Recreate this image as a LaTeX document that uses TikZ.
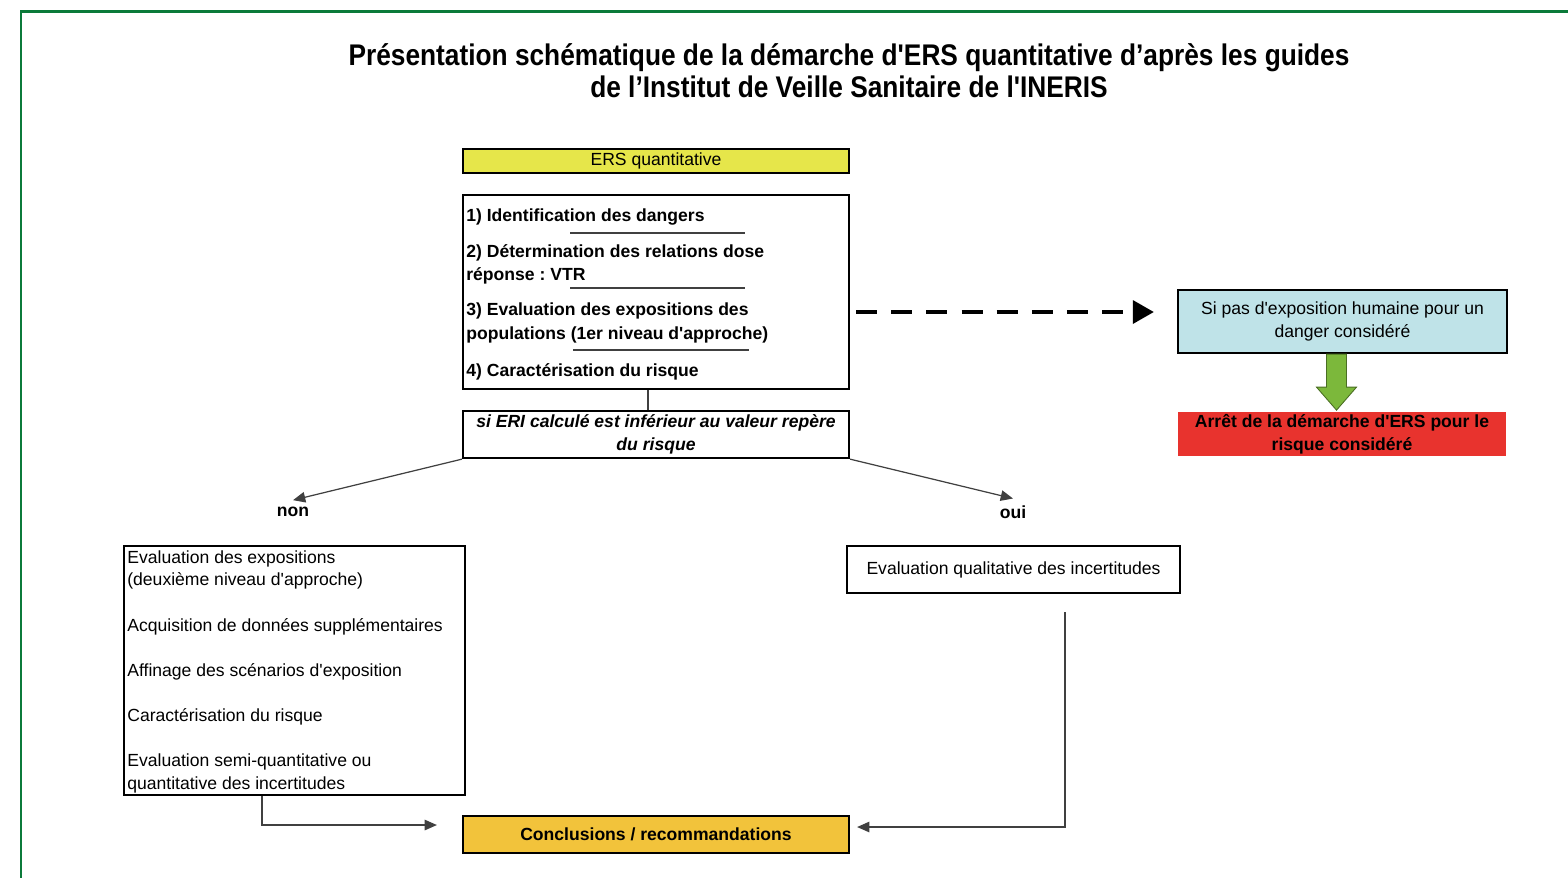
\documentclass[tikz,border=0pt]{standalone}
\usepackage{fontspec}
\setmainfont{Liberation Sans}[Ligatures=TeXOff]
\newfontfamily\titlefont{Liberation Sans}[Ligatures=TeXOff,FakeStretch=0.88]
\usetikzlibrary{arrows.meta,positioning,calc}

\definecolor{frame}{HTML}{0B7A3A}
\definecolor{ersyellow}{HTML}{E6E64A}
\definecolor{infocyan}{HTML}{BFE3E8}
\definecolor{stopred}{HTML}{E8332E}
\definecolor{conclyellow}{HTML}{F2C33B}
\definecolor{arrowgreen}{HTML}{7CB83B}
\newcommand\boxfont{\fontsize{10}{13}\selectfont}
\frenchspacing

\begin{document}
\begin{tikzpicture}[x=0.02cm, y=-0.02cm,
    font=\boxfont,
    box/.style={draw, line width=1.3pt, inner sep=1pt, align=center},
    line/.style={line width=0.7pt, black!75},
    tip/.style={-{Triangle[length=7pt,width=6pt]}},
    rowtext/.style={anchor=base west, inner sep=0pt},
    answer/.style={font=\boxfont\bfseries, inner sep=1pt, outer sep=3pt}]
    \useasboundingbox (0,0) rectangle (1568,877);
    % Green frame
    \draw[frame, line width=1.7pt] (21,878) -- (21,11.5) -- (1569,11.5);
    % Title
    \node[align=center, font=\titlefont\bfseries\fontsize{17}{18}\selectfont] (title) at (849,70.5)
        {Présentation schématique de la démarche d'ERS quantitative d’après les guides\\de l’Institut de Veille Sanitaire de l'INERIS};
    % Main column
    \node[box, fill=ersyellow, minimum width=7.72cm, minimum height=0.48cm, inner sep=0pt] (ers) at (656,161) {ERS quantitative};
    \node[box, minimum width=7.72cm, minimum height=3.88cm] (steps) at (656,292) {};
    \node[rowtext, font=\boxfont\bfseries] (s1) at (466,221) {1) Identification des dangers};
    \node[rowtext, font=\boxfont\bfseries] (s2a) at (466,257) {2) Détermination des relations dose};
    \node[rowtext, font=\boxfont\bfseries] (s2b) at (466,280) {réponse : VTR};
    \node[rowtext, font=\boxfont\bfseries] (s3a) at (466,315) {3) Evaluation des expositions des};
    \node[rowtext, font=\boxfont\bfseries] (s3b) at (466,339) {populations (1er niveau d'approche)};
    \node[rowtext, font=\boxfont\bfseries] (s4) at (466,376) {4) Caractérisation du risque};
    \draw[line] (570,233) -- (745,233);
    \draw[line] (570,288) -- (745,288);
    \draw[line] (573,350) -- (749,350);
    \node[box, minimum width=7.72cm, minimum height=0.94cm, font=\boxfont\bfseries\itshape] (cond) at (656,434.5)
        {si ERI calculé est inférieur au valeur repère\\du risque};
    \node[answer] (non) at (293,512) {non};
    \node[answer] (oui) at (1013,512) {oui};
    % Right side
    \node[box, fill=infocyan, minimum width=6.58cm, minimum height=1.26cm] (human) at (1342.5,321.5)
        {Si pas d'exposition humaine pour un\\danger considéré};
    \node[fill=stopred, minimum width=6.56cm, minimum height=0.88cm, inner sep=1pt, align=center, font=\boxfont\bfseries] (stop) at (1342,434)
        {Arrêt de la démarche d'ERS pour le\\risque considéré};
    % Second level
    \node[box, minimum width=6.82cm, minimum height=4.98cm] (further) at (294.5,670.5) {};
    \node[rowtext] (f1) at (127,563) {Evaluation des expositions};
    \node[rowtext] (f2) at (127,585) {(deuxième niveau d'approche)};
    \node[rowtext] (f3) at (127,631) {Acquisition de données supplémentaires};
    \node[rowtext] (f4) at (127,676) {Affinage des scénarios d'exposition};
    \node[rowtext] (f5) at (127,721) {Caractérisation du risque};
    \node[rowtext] (f6) at (127,766) {Evaluation semi-quantitative ou};
    \node[rowtext] (f7) at (127,789) {quantitative des incertitudes};
    \node[box, minimum width=6.66cm, minimum height=0.94cm] (qual) at (1013.5,569.5) {Evaluation qualitative des incertitudes};
    \node[box, fill=conclyellow, minimum width=7.72cm, minimum height=0.74cm, font=\boxfont\bfseries] (concl) at (656,834.5) {Conclusions / recommandations};
    % Connectors
    \draw[line] ($(steps.south)+(-8,0)$) -- ($(cond.north)+(-8,0)$);
    \draw[line, tip] (cond.south west) -- (non.north);
    \draw[line, tip] (cond.south east) -- (oui.north);
    \draw[line width=2.3pt, dash pattern=on 12pt off 8pt, -{Triangle[length=12pt,width=13pt]}]
        ($(steps.east)+(6,20)$) -- ($(human.west)+(-23,-9.5)$);
    \draw[draw=arrowgreen!60!black, line width=0.5pt, fill=arrowgreen]
        ($(human.south)+(-16,0)$) -- ++(20,0) -- ++(0,33) -- ++(10,0) -- ++(-20,23) -- ++(-20,-23) -- ++(10,0) -- cycle;
    \draw[line, tip] ($(further.south west)+(139,0)$) |- ($(concl.west)+(-25,-9.5)$);
    \draw[line, tip] ($(qual.south)+(51.5,18)$) |- ($(concl.east)+(7,-7.5)$);
\end{tikzpicture}
\end{document}
